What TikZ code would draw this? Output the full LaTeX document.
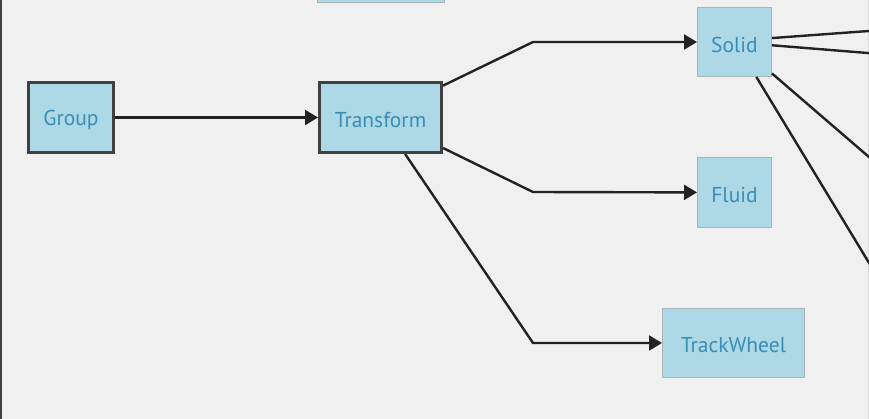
\documentclass[tikz,border=0pt]{standalone}
\usepackage{fontspec}
\setmainfont{PT Sans}
\usetikzlibrary{arrows.meta}
\definecolor{bg}{RGB}{240,240,240}
\definecolor{nodefill}{RGB}{173,216,230}
\definecolor{txt}{RGB}{58,142,180}
\definecolor{thickc}{RGB}{64,64,64}
\definecolor{thinc}{RGB}{170,180,185}
\definecolor{edgec}{RGB}{34,34,34}
\newcommand\boxlbl[1]{\raisebox{-2.5pt}[\height][\depth]{#1}}
\begin{document}
\begin{tikzpicture}[x=1pt,y=-1pt,
  box/.style={fill=nodefill, text=txt, font=\fontsize{21.5}{24}\selectfont, inner sep=0pt, align=center},
  selbox/.style={box, draw=thickc, line width=3pt},
  plainbox/.style={box, draw=thinc, line width=1pt},
  link/.style={draw=edgec, line width=2.4pt, -{Triangle[length=13pt,width=15pt]}},
  plainlink/.style={draw=edgec, line width=2.4pt}]
\useasboundingbox (0,0) rectangle (869,419);
\clip (0,0) rectangle (869,419);
\fill[bg] (0,0) rectangle (869,419);
\draw[line width=2pt, color=thickc] (1,0) -- (1,419);
\draw[line width=1pt, color=black!15] (868.5,0) -- (868.5,419);

\node[plainbox, minimum width=127pt, minimum height=72pt] (top) at (381,-33) {};
\node[selbox, minimum width=85pt, minimum height=70pt] (group) at (71,117.5) {\boxlbl{Group}};
\node[selbox, minimum width=122pt, minimum height=70pt] (transform) at (380.5,117.5) {\boxlbl{Transform}};
\node[plainbox, minimum width=74pt, minimum height=69pt] (solid) at (734.5,42) {\boxlbl{Solid}};
\node[plainbox, minimum width=74pt, minimum height=70pt] (fluid) at (734.5,192.5) {\boxlbl{Fluid}};
\node[plainbox, minimum width=142pt, minimum height=69pt] (trackwheel) at (733.5,343) {\boxlbl{TrackWheel}};

\coordinate (b1) at (533,42);
\coordinate (b2) at (533,192);
\coordinate (b3) at (533,343);
\coordinate (o1) at (880,30.2);
\coordinate (o2) at (880,54);
\coordinate (o3) at (880,166.5);
\coordinate (o4) at (880,281);

\draw[link] (group) -- (transform);
\draw[link] (transform.27) -- (b1) -- (solid);
\draw[link] (transform.-26) -- (b2) -- (fluid);
\draw[link] (transform.-56) -- (b3) -- (trackwheel);

\draw[plainlink] (solid.6) -- (o1);
\draw[plainlink] (solid.-5) -- (o2);
\draw[plainlink] (solid.-40) -- (o3);
\draw[plainlink] (solid.-58) -- (o4);
\end{tikzpicture}
\end{document}
